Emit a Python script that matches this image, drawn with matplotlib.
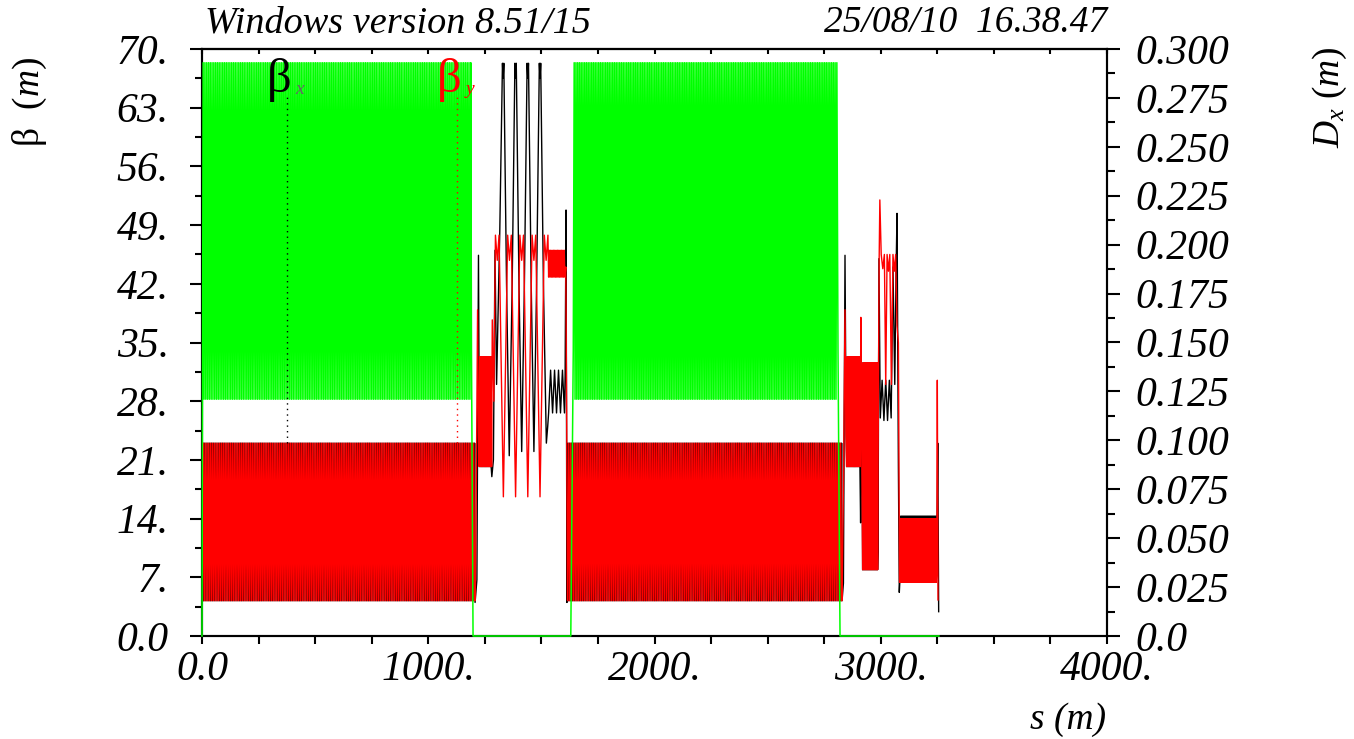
import numpy as np
import matplotlib
matplotlib.use("Agg")
import matplotlib.pyplot as plt
from matplotlib.ticker import FixedLocator, FixedFormatter, MultipleLocator
from matplotlib.lines import Line2D

plt.rcParams["mathtext.fontset"] = "custom"
plt.rcParams["mathtext.rm"] = "Liberation Serif"
plt.rcParams["mathtext.it"] = "Liberation Serif:italic"

# ------------------------------------------------------------------ data
# Arc (FODO) sections
arc_beta_start = [2, 1617]        # s (m)
arc_beta_end = [1205, 2827]
arc_disp_start = [5, 1645]
arc_disp_end = [1188, 2806]
arc_cells = [150, 150]
# one FODO cell: value at cell start and at half cell
cell_betx = [23.0, 4.2]
cell_bety = [4.2, 23.0]
cell_dx = [0.293, 0.121]

# densely oscillating stretches inside the insertions
band_betx_s0 = [1228, 1532, 2850, 2920, 3086]
band_betx_s1 = [1278, 1602, 2908, 2986, 3246]
band_betx_lo = [20.2, 26.6, 20.2, 7.9, 7.4]
band_betx_hi = [33.3, 31.7, 33.3, 32.6, 14.3]
band_betx_n = [10, 4, 12, 14, 34]

band_bety_s0 = [1225, 1532, 2849, 2920, 3086]
band_bety_s1 = [1280, 1604, 2909, 2986, 3245]
band_bety_lo = [20.2, 42.8, 20.2, 7.9, 6.4]
band_bety_hi = [33.3, 46.0, 33.3, 32.6, 14.0]
band_bety_n = [11, 12, 12, 14, 34]

# individual optics points in the insertions
betx_s = [1207, 1215, 1222, 1226,
          1281, 1288, 1295, 1302, 1316, 1328, 1331, 1334, 1346, 1358, 1371,
          1383, 1386, 1389, 1401, 1413, 1425, 1437, 1440, 1443, 1455, 1467,
          1479, 1491, 1494, 1497, 1509, 1522, 1528,
          1605, 1609, 1613,
          2829, 2835, 2842, 2847,
          2911, 2916,
          2988, 2992, 2998, 3006, 3014, 3022, 3030, 3038, 3046, 3054, 3062,
          3068, 3072, 3078, 3082,
          3249, 3252, 3256]
betx_v = [4.0, 6.7, 45.4, 22.0,
          19.0, 21.0, 46.0, 30.0, 48.0, 68.3, 66.5, 68.3, 42.0, 21.5, 42.0,
          68.3, 66.5, 68.3, 42.0, 22.0, 42.0, 68.3, 66.5, 68.3, 42.0, 22.0,
          42.0, 68.3, 66.5, 68.3, 42.0, 23.0, 25.0,
          31.0, 50.8, 4.0,
          4.2, 6.3, 45.4, 24.0,
          13.5, 30.0,
          10.0, 45.0, 26.0, 30.5, 25.7, 30.5, 25.7, 30.5, 26.0, 44.0, 30.0,
          44.0, 50.4, 20.0, 5.2,
          14.0, 23.0, 2.9]

bety_s = [1208, 1213, 1218, 1222,
          1283, 1290, 1297, 1305, 1313, 1332, 1351, 1359, 1367, 1386, 1405,
          1413, 1421, 1440, 1459, 1467, 1475, 1494, 1513, 1521, 1529,
          1608, 1612, 1615,
          2829, 2836, 2842, 2846,
          2912, 2915,
          2988, 2993, 2996, 3002, 3009, 3016, 3022, 3028, 3034, 3040, 3047,
          3054, 3060, 3066, 3072, 3078, 3083,
          3248, 3250, 3253]
bety_v = [4.3, 20.0, 38.9, 24.0,
          37.7, 28.0, 47.8, 44.8, 47.8, 16.6, 47.8, 44.8, 47.8, 16.6, 47.8,
          44.8, 47.8, 16.6, 47.8, 44.8, 47.8, 16.6, 47.8, 44.8, 47.8,
          44.0, 25.0, 4.3,
          4.3, 20.0, 38.9, 24.0,
          38.0, 25.0,
          20.0, 45.0, 52.0, 45.5, 43.8, 45.5, 30.0, 45.5, 43.5, 45.5, 30.0,
          45.5, 43.5, 45.5, 37.0, 35.0, 6.4,
          8.0, 30.5, 4.3]

dx_s = [0, 1191, 1198, 1630, 1641, 2811, 2820, 3257]
dx_v = [0.0, 0.146, 0.0, 0.0, 0.146, 0.146, 0.0, 0.0]

# curve label markers (s of dotted line, beta at bottom, beta at top)
marker_s = [376, 1127]
marker_lo = [23.0, 23.0]
marker_hi = [64.5, 64.5]
marker_names = ["x", "y"]

beta_ticks = [0, 7, 14, 21, 28, 35, 42, 49, 56, 63, 70]
beta_labels = ["0.0", "7.", "14.", "21.", "28.", "35.", "42.", "49.", "56.", "63.", "70."]
d_ticks = [0, 0.025, 0.05, 0.075, 0.1, 0.125, 0.15, 0.175, 0.2, 0.225, 0.25, 0.275, 0.3]
d_labels = ["0.0", "0.025", "0.050", "0.075", "0.100", "0.125", "0.150", "0.175",
            "0.200", "0.225", "0.250", "0.275", "0.300"]
s_ticks = [0, 1000, 2000, 3000, 4000]
s_labels = ["0.0", "1000.", "2000.", "3000.", "4000."]


# ------------------------------------------------------------------ build
def tile_cells(s0, s1, n, prof):
    s = np.linspace(s0, s1, 2 * n + 1)
    v = np.array(list(prof) * n + [prof[0]], dtype=float)
    return s, v


def assemble(arc_s0, arc_s1, ncell, prof, bs0, bs1, blo, bhi, bn, ps, pv):
    S, V = [], []
    for a, b, n in zip(arc_s0, arc_s1, ncell):
        s, v = tile_cells(a, b, n, prof)
        S.append(s); V.append(v)
    for a, b, lo, hi, n in zip(bs0, bs1, blo, bhi, bn):
        s, v = tile_cells(a, b, n, [lo, hi])
        S.append(s); V.append(v)
    S.append(np.array(ps, float)); V.append(np.array(pv, float))
    S = np.concatenate(S); V = np.concatenate(V)
    o = np.argsort(S, kind="stable")
    return S[o], V[o]


sx, vx = assemble(arc_beta_start, arc_beta_end, arc_cells, cell_betx,
                  band_betx_s0, band_betx_s1, band_betx_lo, band_betx_hi, band_betx_n,
                  betx_s, betx_v)
sy, vy = assemble(arc_beta_start, arc_beta_end, arc_cells, cell_bety,
                  band_bety_s0, band_bety_s1, band_bety_lo, band_bety_hi, band_bety_n,
                  bety_s, bety_v)
sd, vd = assemble(arc_disp_start, arc_disp_end, arc_cells, cell_dx,
                  [], [], [], [], [], dx_s, dx_v)

# ------------------------------------------------------------------ plot
W, H = 1354, 739
fig = plt.figure(figsize=(W / 100, H / 100), dpi=100)
fig.patch.set_facecolor("white")
L, R, T, B = 202, 1107, 49, 636
ax = fig.add_axes([L / W, 1 - B / H, (R - L) / W, (B - T) / H])
ax2 = ax.twinx()

SERIF = "Liberation Serif"
RED = "#ff0000"
GREEN = "#00ff00"
LW_AX = 1.5

ax.plot(sx, vx, color="black", lw=1.0, zorder=2)
ax.plot(sy, vy, color=RED, lw=1.0, zorder=3)
ax2.plot(sd, vd, color=GREEN, lw=1.1, zorder=3, clip_on=False)

ax.set_xlim(0, 4000)
ax.set_ylim(0, 70)
ax2.set_ylim(0, 0.3)

# curve labels with dotted pointer lines (drawn on top of everything)
for m_s, lo, hi, c, nm in zip(marker_s, marker_lo, marker_hi, ["black", RED], marker_names):
    ax2.add_line(Line2D([m_s, m_s], [lo, hi], transform=ax.transData, color=c,
                        lw=1.0, ls=(0, (1, 3)), zorder=5))
    ax2.text(m_s - 36, 66.3, "β", transform=ax.transData, color=c, family=SERIF,
             size=35, ha="center", va="center", zorder=6)
    ax2.text(m_s + 57, 65.2, nm, transform=ax.transData,
             color="#666666" if nm == "x" else c, family=SERIF, style="italic",
             size=14, ha="center", va="center", zorder=6)

# ticks
ax.xaxis.set_major_locator(FixedLocator(s_ticks))
ax.xaxis.set_major_formatter(FixedFormatter(s_labels))
ax.xaxis.set_minor_locator(MultipleLocator(250))
ax.yaxis.set_major_locator(FixedLocator(beta_ticks))
ax.yaxis.set_major_formatter(FixedFormatter(beta_labels))
ax.yaxis.set_minor_locator(MultipleLocator(3.5))
ax2.yaxis.set_major_locator(FixedLocator(d_ticks))
ax2.yaxis.set_major_formatter(FixedFormatter(d_labels))
ax2.yaxis.set_minor_locator(MultipleLocator(0.0125))

ax.tick_params(axis="x", which="both", direction="out", length=5.8, width=LW_AX, pad=5)
ax.tick_params(axis="y", which="major", direction="out", length=8.9, width=LW_AX, pad=15)
ax.tick_params(axis="y", which="minor", direction="out", length=4.8, width=LW_AX)
ax2.tick_params(axis="y", which="major", direction="out", length=9.4, width=LW_AX, pad=11)
ax2.tick_params(axis="y", which="minor", direction="out", length=5.8, width=LW_AX)
for lab in ax.get_xticklabels() + ax.get_yticklabels() + ax2.get_yticklabels():
    lab.set_fontfamily(SERIF); lab.set_fontstyle("italic"); lab.set_fontsize(30)

sec = ax.secondary_xaxis("top")
sec.xaxis.set_major_locator(MultipleLocator(250))
sec.tick_params(axis="x", direction="in", length=3.5, width=LW_AX, labeltop=False)
sec.spines["top"].set_linewidth(LW_AX)

for sp in ["left", "bottom", "right", "top"]:
    ax.spines[sp].set_linewidth(LW_AX)
    ax2.spines[sp].set_linewidth(LW_AX)

# header, axis titles
fig.text(205 / W, 1 - 23 / H, "Windows version 8.51/15", ha="left", va="center",
         family=SERIF, style="italic", size=27.5)
fig.text(1107 / W, 1 - 23 / H, "25/08/10  16.38.47", ha="right", va="center",
         family=SERIF, style="italic", size=27)
fig.text(1106 / W, 1 - 720 / H, "s (m)", ha="right", va="center",
         family=SERIF, style="italic", size=27)
fig.text(30 / W, 1 - 102 / H, r"β  $\mathit{(m)}$", rotation=90, ha="center", va="center",
         family=SERIF, size=27)
fig.text(1330 / W, 1 - 97 / H, r"$\mathit{D}_{\mathit{x}}\ \mathit{(m)}$", rotation=90,
         ha="center", va="center", family=SERIF, size=27)

fig.savefig("out.png", dpi=100, facecolor="white")
